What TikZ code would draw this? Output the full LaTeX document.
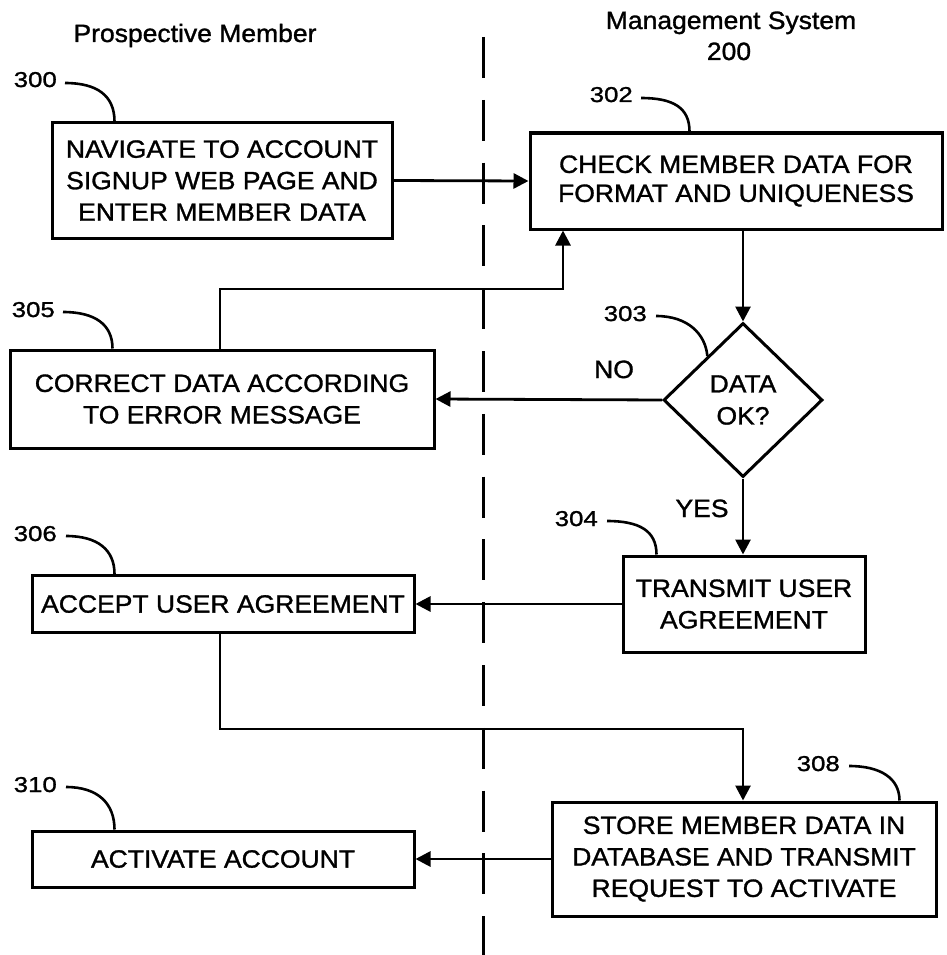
\documentclass[tikz,border=0pt]{standalone}
\usepackage{fontspec}
\setmainfont{Liberation Sans}[FakeStretch=1.06,FakeBold=1.2]
\newfontfamily\numfont{Liberation Sans}[FakeStretch=1.2,FakeBold=1.2]
\usetikzlibrary{shapes.geometric,arrows.meta,calc}

\begin{document}
\begin{tikzpicture}[x=1pt,y=-1pt,
  box/.style={draw, line width=3pt, align=center, inner sep=0pt,
    font=\fontsize{25}{31.5}\selectfont},
  decision/.style={diamond, draw, line width=3pt, align=center, inner sep=0pt,
    minimum width=159pt, minimum height=154pt,
    font=\fontsize{25}{32}\selectfont},
  flow/.style={draw, line width=2.8pt, -{Triangle[length=15pt,width=15pt]}},
  refnum/.style={font=\numfont\fontsize{21.5}{21.5}\selectfont, inner sep=0pt, anchor=base east},
  lead/.style={draw, line width=2.6pt},
  header/.style={font=\fontsize{25}{25}\selectfont, inner sep=0pt, anchor=base},
  answer/.style={font=\fontsize{25}{25}\selectfont, inner sep=0pt, anchor=base},
  lane/.style={draw, line width=3pt, dash pattern=on 41pt off 21.8pt}]

\useasboundingbox (0,0) rectangle (946,955);

% swimlane headers and divider
\node[header] (hPM) at (195,42) {Prospective Member};
\node[header] (hMS) at (731,29) {Management System};
\node[header] (hMSn) at (729,60) {200};
\coordinate (laneTop) at (483,37);
\coordinate (laneBot) at (483,955);
\draw[lane] (laneTop) -- (laneBot);

% process steps
\node[box, minimum width=340pt, minimum height=115pt] (n300) at (222,180.5)
  {NAVIGATE TO ACCOUNT\\SIGNUP WEB PAGE AND\\ENTER MEMBER DATA};
\node[box, minimum width=412pt, minimum height=96pt,
  font=\fontsize{25}{29}\selectfont] (n302) at (736,181)
  {CHECK MEMBER DATA FOR\\FORMAT AND UNIQUENESS};
\node[decision] (n303) at (743,400) {DATA\\OK?};
\node[box, minimum width=424pt, minimum height=98pt] (n305) at (222,399)
  {CORRECT DATA ACCORDING\\TO ERROR MESSAGE};
\node[box, minimum width=242pt, minimum height=96pt] (n304) at (744,604)
  {TRANSMIT USER\\AGREEMENT};
\node[box, minimum width=382pt, minimum height=57pt] (n306) at (223,604)
  {ACCEPT USER AGREEMENT};
\node[box, minimum width=384pt, minimum height=114pt] (n308) at (744,859)
  {STORE MEMBER DATA IN\\DATABASE AND TRANSMIT\\REQUEST TO ACTIVATE};
\node[box, minimum width=382pt, minimum height=56pt] (n310) at (223,859)
  {ACTIVATE ACCOUNT};

% branch labels
\node[answer] (lNO) at (614,378) {NO};
\node[answer] (lYES) at (702,517) {YES};

% connectors
\coordinate (fbL) at (220,289);
\coordinate (fbR) at (563,289);
\coordinate (jL) at (220,729);
\coordinate (jR) at (743,729);

\draw[flow] (n300.east) -- (n302.west);
\draw[flow] (n302.south -| n303.north) -- (n303.north);
\draw[flow] (n303.west) -- (n305.east);
\draw[flow] (n305.north -| fbL) -- (fbL) -- (fbR) -- (fbR |- n302.south);
\draw[flow] (n303.south) -- (n304.north -| n303.south);
\draw[flow] (n304.west) -- (n306.east);
\draw[flow] (n306.south -| jL) -- (jL) -- (jR) -- (n308.north -| jR);
\draw[flow] (n308.west) -- (n310.east);

% reference numerals with leader curves
\node[refnum] (r300) at (57,87) {300};
\node[refnum] (r302) at (633,102) {302};
\node[refnum] (r303) at (647,321) {303};
\node[refnum] (r304) at (598,526) {304};
\node[refnum] (r305) at (55,317) {305};
\node[refnum] (r306) at (57,541) {306};
\node[refnum] (r308) at (840,771) {308};
\node[refnum] (r310) at (57,792) {310};

\draw[lead] ($(r300.base east)+(8,-4)$) .. controls +(32,0) and +(0,-26) .. ($(n300.north west)+(64,0)$);
\draw[lead] ($(r302.base east)+(8,-4)$) .. controls +(32,0) and +(0,-24) .. ($(n302.north west)+(161,0)$);
\draw[lead] ($(r303.base east)+(9,-5)$) .. controls +(32,0) and +(-2,-22) .. ($(n303.west)!0.56!(n303.north)$);
\draw[lead] ($(r304.base east)+(9,-5)$) .. controls +(32,0) and +(0,-24) .. ($(n304.north west)+(35,0)$);
\draw[lead] ($(r305.base east)+(8,-5)$) .. controls +(32,0) and +(0,-24) .. ($(n305.north west)+(104,0)$);
\draw[lead] ($(r306.base east)+(9,-5)$) .. controls +(32,0) and +(0,-24) .. ($(n306.north west)+(84,0)$);
\draw[lead] ($(r308.base east)+(9,-5)$) .. controls +(32,0) and +(0,-22) .. ($(n308.north west)+(349,0)$);
\draw[lead] ($(r310.base east)+(9,-5)$) .. controls +(32,0) and +(0,-26) .. ($(n310.north west)+(84,0)$);
\end{tikzpicture}
\end{document}
